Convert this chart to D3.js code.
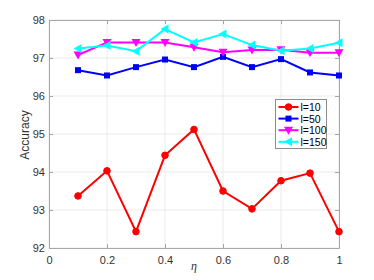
<!DOCTYPE html>
<html>
<head>
<meta charset="utf-8">
<script src="https://cdn.jsdelivr.net/npm/d3@7"></script>
<style>
  body { margin: 0; background: #fff; }
  svg text { font-family: "Liberation Sans", Arial, sans-serif; }
</style>
</head>
<body>
<svg id="chart" width="374" height="280"></svg>
<script>
// data
const etaValues = [0.1, 0.2, 0.3, 0.4, 0.5, 0.6, 0.7, 0.8, 0.9, 1.0];
const acc_l10  = [93.37, 94.03, 92.43, 94.44, 95.12, 93.50, 93.03, 93.77, 93.97, 92.43];
const acc_l50  = [96.68, 96.54, 96.76, 96.96, 96.76, 97.03, 96.76, 96.97, 96.62, 96.54];
const acc_l100 = [97.08, 97.41, 97.41, 97.41, 97.28, 97.15, 97.21, 97.22, 97.14, 97.14];
const acc_l150 = [97.25, 97.33, 97.18, 97.76, 97.41, 97.63, 97.34, 97.19, 97.25, 97.40];
const seriesNames = ["l=10", "l=50", "l=100", "l=150"];
const seriesColors = ["#ff0000", "#0000ff", "#ff00ff", "#00ffff"];
const seriesMarkers = ["circle", "square", "triDown", "triLeft"];
const xTicks = [0, 0.2, 0.4, 0.6, 0.8, 1];
const yTicks = [92, 93, 94, 95, 96, 97, 98];

const allSeries = [acc_l10, acc_l50, acc_l100, acc_l150];

const margins = { left: 49, right: 35, top: 20, bottom: 32 };
const width = 374, height = 280;

const svg = d3.select("#chart");
const plotW = width - margins.left - margins.right;
const plotH = height - margins.top - margins.bottom;

const xScale = d3.scaleLinear().domain([0, 1]).range([0, plotW]);
const yScale = d3.scaleLinear().domain([92, 98]).range([plotH, 0]);

const g = svg.append("g").attr("transform", `translate(${margins.left},${margins.top})`);

// grid
g.selectAll(".xgrid").data(xTicks).enter().append("line")
    .attr("x1", d => xScale(d)).attr("x2", d => xScale(d))
    .attr("y1", 0).attr("y2", plotH)
    .attr("stroke", "#e6e6e6").attr("stroke-width", 0.8);
g.selectAll(".ygrid").data(yTicks).enter().append("line")
    .attr("y1", d => yScale(d)).attr("y2", d => yScale(d))
    .attr("x1", 0).attr("x2", plotW)
    .attr("stroke", "#e6e6e6").attr("stroke-width", 0.8);

// axes (ticks inward)
const axisColor = "#a6a6a6";
const xAxis = g.append("g").attr("transform", `translate(0,${plotH})`)
    .call(d3.axisBottom(xScale).tickValues(xTicks).tickFormat(d3.format("")).tickSizeInner(-4).tickSizeOuter(0).tickPadding(8));
const yAxis = g.append("g")
    .call(d3.axisLeft(yScale).tickValues(yTicks).tickFormat(d3.format("d")).tickSizeInner(-4).tickSizeOuter(0).tickPadding(4));
const xAxisTop = g.append("g")
    .call(d3.axisTop(xScale).tickValues(xTicks).tickFormat("").tickSizeInner(-4).tickSizeOuter(0));
const yAxisRight = g.append("g").attr("transform", `translate(${plotW},0)`)
    .call(d3.axisRight(yScale).tickValues(yTicks).tickFormat("").tickSizeInner(-4).tickSizeOuter(0));

[xAxis, yAxis, xAxisTop, yAxisRight].forEach(a => {
    a.select(".domain").attr("stroke", axisColor).attr("stroke-width", 1);
    a.selectAll(".tick line").attr("stroke", axisColor);
    a.selectAll(".tick text").attr("fill", "#333").style("font-size", "11px");
});

// markers
function drawMarker(sel, type, color) {
    if (type === "circle") {
        sel.append("circle").attr("r", 3.3).attr("fill", color).attr("stroke", color);
    } else if (type === "square") {
        sel.append("rect").attr("x", -3).attr("y", -3).attr("width", 6).attr("height", 6).attr("fill", color);
    } else if (type === "triDown") {
        sel.append("path").attr("d", "M-4.5,-3.5L4.5,-3.5L0,4.5Z").attr("fill", color);
    } else if (type === "triLeft") {
        sel.append("path").attr("d", "M-4.5,0L3.5,-4.5L3.5,4.5Z").attr("fill", color);
    }
}

const line = d3.line().x(d => xScale(d[0])).y(d => yScale(d[1]));

allSeries.forEach((vals, i) => {
    const pts = etaValues.map((e, j) => [e, vals[j]]);
    g.append("path").datum(pts)
        .attr("d", line)
        .attr("fill", "none")
        .attr("stroke", seriesColors[i])
        .attr("stroke-width", 2);
    pts.forEach(p => {
        const m = g.append("g").attr("transform", `translate(${xScale(p[0])},${yScale(p[1])})`);
        drawMarker(m, seriesMarkers[i], seriesColors[i]);
    });
});

// legend
const legend = svg.append("g").attr("transform", "translate(275.5,99.5)");
legend.append("rect").attr("width", 51).attr("height", 49)
    .attr("fill", "#fff").attr("stroke", "#8c8c8c").attr("stroke-width", 1);
seriesNames.forEach((name, i) => {
    const row = legend.append("g").attr("transform", `translate(0,${7.5 + i * 11.6})`);
    row.append("line").attr("x1", 3).attr("x2", 23).attr("y1", 0).attr("y2", 0)
        .attr("stroke", seriesColors[i]).attr("stroke-width", 2);
    const m = row.append("g").attr("transform", "translate(13,0)");
    drawMarker(m, seriesMarkers[i], seriesColors[i]);
    row.append("text").attr("x", 25).attr("y", 4).text(name)
        .attr("fill", "#000").style("font-size", "10.5px");
});

// axis labels
svg.append("text")
    .attr("transform", "translate(29,135) rotate(-90)")
    .attr("text-anchor", "middle")
    .attr("fill", "#333").style("font-size", "12px")
    .text("Accuracy");
svg.append("text")
    .attr("x", margins.left + plotW / 2).attr("y", 270)
    .attr("text-anchor", "middle")
    .attr("fill", "#333").style("font-size", "12px").style("font-style", "italic")
    .style("font-family", "'Liberation Serif', serif")
    .text("η");
</script>
</body>
</html>
